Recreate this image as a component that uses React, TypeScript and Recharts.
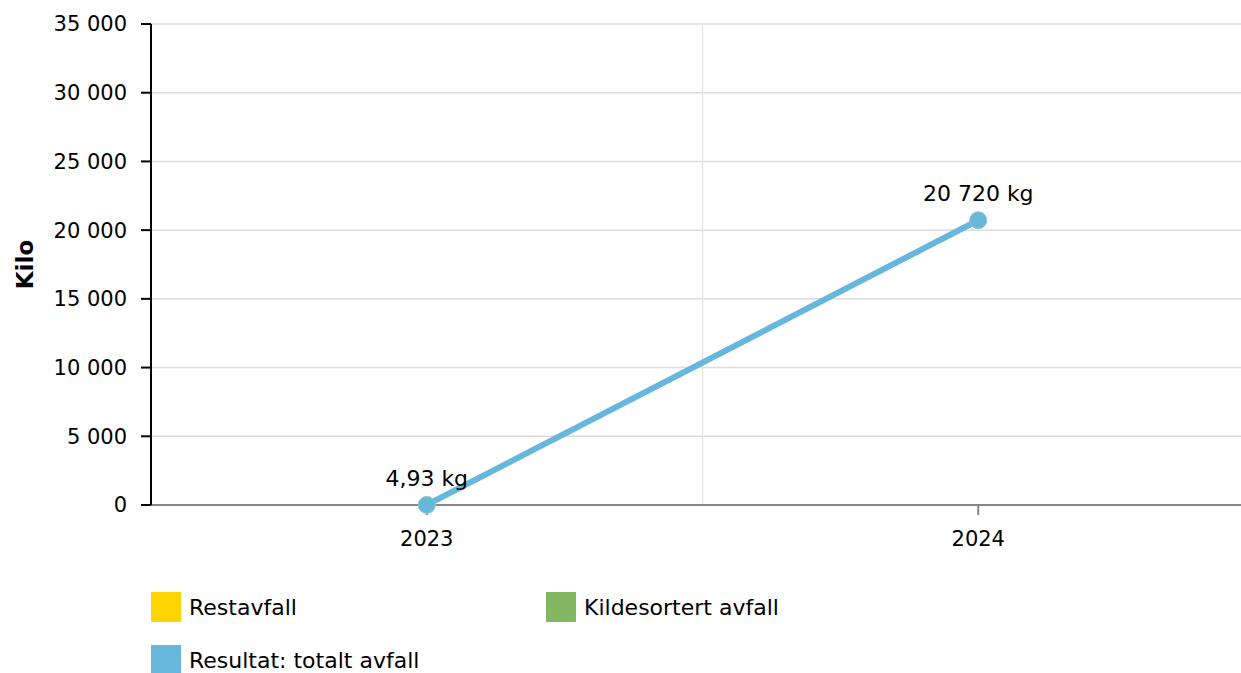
import { LineChart, Line, XAxis, YAxis, CartesianGrid, ReferenceLine, LabelList } from 'recharts';

const years = ['2023', '2024'];
const totalAvfall = [4.93, 20720];
const yTicks = [0, 5000, 10000, 15000, 20000, 25000, 30000, 35000];

const legendNames = ['Restavfall', 'Kildesortert avfall', 'Resultat: totalt avfall'];
const legendColors = ['#ffd500', '#84b761', '#67b7dc'];

const FONT = '"DejaVu Sans", Verdana, sans-serif';

const fmtThousands = (v: number) => {
  const [int, dec] = String(v).split('.');
  const withSpaces = int.replace(/\B(?=(\d{3})+(?!\d))/g, ' ');
  return dec ? `${withSpaces},${dec}` : withSpaces;
};

const data = years.map((year, i) => ({ idx: i, year, total: totalAvfall[i] }));

export default function App() {
  return (
    <div
      style={{
        position: 'fixed',
        left: 0,
        top: 0,
        width: 1241,
        height: 673,
        overflow: 'hidden',
        background: '#fff',
        fontFamily: FONT,
      }}
    >
      <LineChart width={1254} height={560} data={data} margin={{ top: 24, right: 0, left: 0, bottom: 0 }}>
        <CartesianGrid vertical={false} stroke="#dcdcdc" strokeWidth={1.5} />
        <ReferenceLine x={0.5} stroke="#e6e6e6" strokeWidth={1.5} />
        <XAxis
          type="number"
          dataKey="idx"
          domain={[-0.5, 1.5]}
          ticks={[0, 1]}
          tickFormatter={(i: number) => years[i]}
          height={55}
          tickSize={10}
          tickMargin={16}
          stroke="#888"
          strokeWidth={2}
          tick={{ fill: '#000', fontSize: 21, fontFamily: FONT }}
        />
        <YAxis
          domain={[0, 35000]}
          ticks={yTicks}
          width={151}
          tickSize={10}
          tickMargin={14}
          stroke="#000"
          strokeWidth={2}
          tickFormatter={(v: number) => fmtThousands(v)}
          tick={{ fill: '#000', fontSize: 21, fontFamily: FONT }}
          label={{
            content: (props: any) => {
              const vb = props.viewBox || {};
              const cy = (vb.y || 0) + (vb.height || 0) / 2;
              return (
                <text
                  x={25}
                  y={cy}
                  transform={`rotate(-90, 25, ${cy})`}
                  textAnchor="middle"
                  dominantBaseline="central"
                  fontSize={23}
                  fontWeight="bold"
                  fontFamily={FONT}
                  fill="#000"
                >
                  Kilo
                </text>
              );
            },
          }}
        />
        <Line
          type="linear"
          dataKey="total"
          stroke="#67b7dc"
          strokeWidth={6}
          dot={{ r: 8.5, fill: '#67b7dc', stroke: '#8fc7c0', strokeWidth: 1 }}
          activeDot={false}
          isAnimationActive={false}
        >
          <LabelList
            dataKey="total"
            position="top"
            offset={19}
            formatter={(v: any) => `${fmtThousands(Number(v))} kg`}
            style={{ fontSize: 22, fontFamily: FONT, fill: '#000' }}
          />
        </Line>
      </LineChart>

      {legendNames.map((name, i) => (
        <div
          key={name}
          style={{
            position: 'absolute',
            left: i === 1 ? 546 : 151,
            top: i === 2 ? 645 : 592,
            display: 'flex',
            alignItems: 'center',
            fontSize: 22,
            color: '#000',
          }}
        >
          <div style={{ width: 30, height: 30, background: legendColors[i], marginRight: 8 }} />
          <span>{name}</span>
        </div>
      ))}
    </div>
  );
}
